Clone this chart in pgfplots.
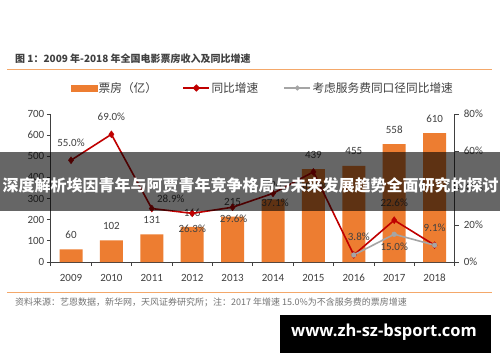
\documentclass[border=0pt]{standalone}
\usepackage{pgfplots}
\pgfplotsset{compat=1.18}
\usepackage{pgfplotstable}
\usepackage{fontspec}
\setmainfont{Carlito}
\newfontfamily\cjk{Noto Sans CJK SC}
\newfontfamily\wm{Open Sans}
\definecolor{barorange}{HTML}{ED7D31}
\definecolor{linered}{HTML}{C00000}
\definecolor{linegray}{HTML}{A5A5A5}
\definecolor{rulec}{HTML}{F4A86A}
\definecolor{txt}{HTML}{404040}
\pgfplotsset{/pgf/number format/assume math mode=true}

\pgfplotstableread{
x y
0 60
1 102
2 131
3 166
4 215
5 296
6 439
7 455
8 558
9 610
}\bardata

\pgfplotstableread{
x y lab dx dy
0 55.0 55.0 0 17.5
1 69.0 69.0 0 17.5
2 28.9 28.9 19 10
3 26.3 26.3 0 -15
4 29.6 29.6 1 -11.5
5 37.1 37.1 2 -9.5
6 48.7 48.7 0 -15
7 3.8 3.8 5 18
8 22.6 22.6 0 17
9 9.1 9.1 0 17
}\reddata

\pgfplotstableread{
x y
7 3.8
8 15.0
9 9.1
}\graydata

\begin{document}
\begin{tikzpicture}
\path[fill=white,use as bounding box] (0pt,0pt) rectangle (500pt,362pt);

% title and rules
\node[anchor=base west, inner sep=0pt, font=\cjk\bfseries\fontsize{10}{12}\selectfont, text=txt] at (15pt,299.5pt) {图 1：2009 年-2018 年全国电影票房收入及同比增速};
\draw[rulec, line width=0.9pt] (7pt,292.7pt) -- (492pt,292.7pt);
\draw[rulec, line width=0.9pt] (7pt,69.7pt) -- (492pt,69.7pt);
\node[anchor=base west, inner sep=0pt, font=\cjk\fontsize{9}{10}\selectfont, text=black!55] at (15pt,56.3pt) {资料来源：艺恩数据，新华网，天风证券研究所；注：2017 年增速 15.0\%为不含服务费的票房增速};

\begin{axis}[
  at={(50.8pt,100pt)}, anchor=south west, scale only axis,
  width=404pt, height=148pt,
  xmin=-0.5, xmax=9.5, ymin=0, ymax=700,
  axis x line*=bottom, axis y line*=left,
  axis line style={black!75, line width=0.8pt},
  xtick={0,...,9},
  xticklabels={2009,2010,2011,2012,2013,2014,2015,2016,2017,2018},
  minor xtick={-0.5,0.5,...,9.5},
  major x tick style={draw=none},
  ytick={0,100,...,700},
  tick align=outside, major tick length=4pt, minor tick length=4pt,
  tick style={black!75, line width=0.8pt},
  ticklabel style={font=\fontsize{11}{13}\selectfont, text=txt},
  xticklabel style={yshift=-4.5pt},
  yticklabel style={xshift=1pt},
  ybar, bar width=23pt,
  nodes near coords,
  every node near coord/.append style={anchor=center, yshift=14.5pt, font=\fontsize{11}{13}\selectfont, text=txt},
  clip=false,
]
\addplot[fill=barorange, draw=none] table[x=x,y=y]{\bardata};
\end{axis}

\begin{axis}[
  at={(50.8pt,100pt)}, anchor=south west, scale only axis,
  width=404pt, height=148pt,
  xmin=-0.5, xmax=9.5, ymin=0, ymax=80,
  axis x line=none, axis y line*=right, xtick=\empty,
  axis line style={black!75, line width=0.8pt},
  ytick={0,20,...,80},
  yticklabel={\pgfmathprintnumber{\tick}\%},
  tick align=outside, major tick length=4pt,
  tick style={black!75, line width=0.8pt},
  ticklabel style={font=\fontsize{11}{13}\selectfont, text=txt},
  yticklabel style={xshift=1.5pt},
  clip=false,
  legend columns=3,
  legend style={draw=none, fill=none, at={(axis description cs:0.05,1.1757)}, anchor=west,
    font=\cjk\fontsize{11.7}{13}\selectfont, text=txt, inner sep=0pt,
    /tikz/every even column/.append style={column sep=24pt},
    nodes={inner sep=1.5pt}},
]
\addlegendimage{legend image code/.code={\fill[barorange] (0pt,-2.8pt) rectangle (25.5pt,2.8pt);}}
\addlegendentry{票房（亿）}
\addplot[linered, line width=1.6pt, mark=diamond*, mark size=3.5pt, mark options={solid, line width=0.4pt},
  point meta=explicit symbolic,
  visualization depends on={\thisrow{dx} \as \dx},
  visualization depends on={\thisrow{dy} \as \dy},
  nodes near coords={\pgfplotspointmeta\%},
  every node near coord/.append style={anchor=center, xshift=\dx pt, yshift=\dy pt, font=\fontsize{11}{13}\selectfont, text=txt},
  legend image code/.code={\draw[linered, line width=1.4pt] (0pt,0pt) -- (26pt,0pt); \fill[linered] (13pt,2.6pt) -- (15.6pt,0pt) -- (13pt,-2.6pt) -- (10.4pt,0pt) -- cycle;}
] table[x=x,y=y,meta=lab]{\reddata};
\addlegendentry{同比增速}
\addplot[linegray, line width=1.6pt, mark=*, mark size=2.4pt, mark options={solid, line width=0.4pt},
  legend image code/.code={\draw[linegray, line width=1.2pt] (0pt,0pt) -- (26pt,0pt); \fill[linegray] (13pt,0pt) circle (1.6pt);}
] table[x=x,y=y]{\graydata};
\addlegendentry{考虑服务费同口径同比增速}
\addplot[draw=none, forget plot, nodes near coords={15.0\%},
  every node near coord/.append style={anchor=center, yshift=-13pt, font=\fontsize{11}{13}\selectfont, text=txt}]
  coordinates {(8,15.0)};
\end{axis}

% overlay banner
\fill[black, opacity=0.6] (0pt,151pt) rectangle (500pt,210.3pt);
\node[text=white, inner sep=0pt, font=\cjk\bfseries\fontsize{16}{16}\selectfont] at (250.5pt,177pt) {深度解析埃因青年与阿贾青年竞争格局与未来发展趋势全面研究的探讨};

% watermark
\fill[black] (280pt,9.3pt) rectangle (490.7pt,47pt);
\node[anchor=base, text=white, inner sep=0pt, font=\wm\bfseries\fontsize{16.5}{16.5}\selectfont] at (384pt,25.3pt) {www.zh-sz-bsport.com};
\end{tikzpicture}
\end{document}
